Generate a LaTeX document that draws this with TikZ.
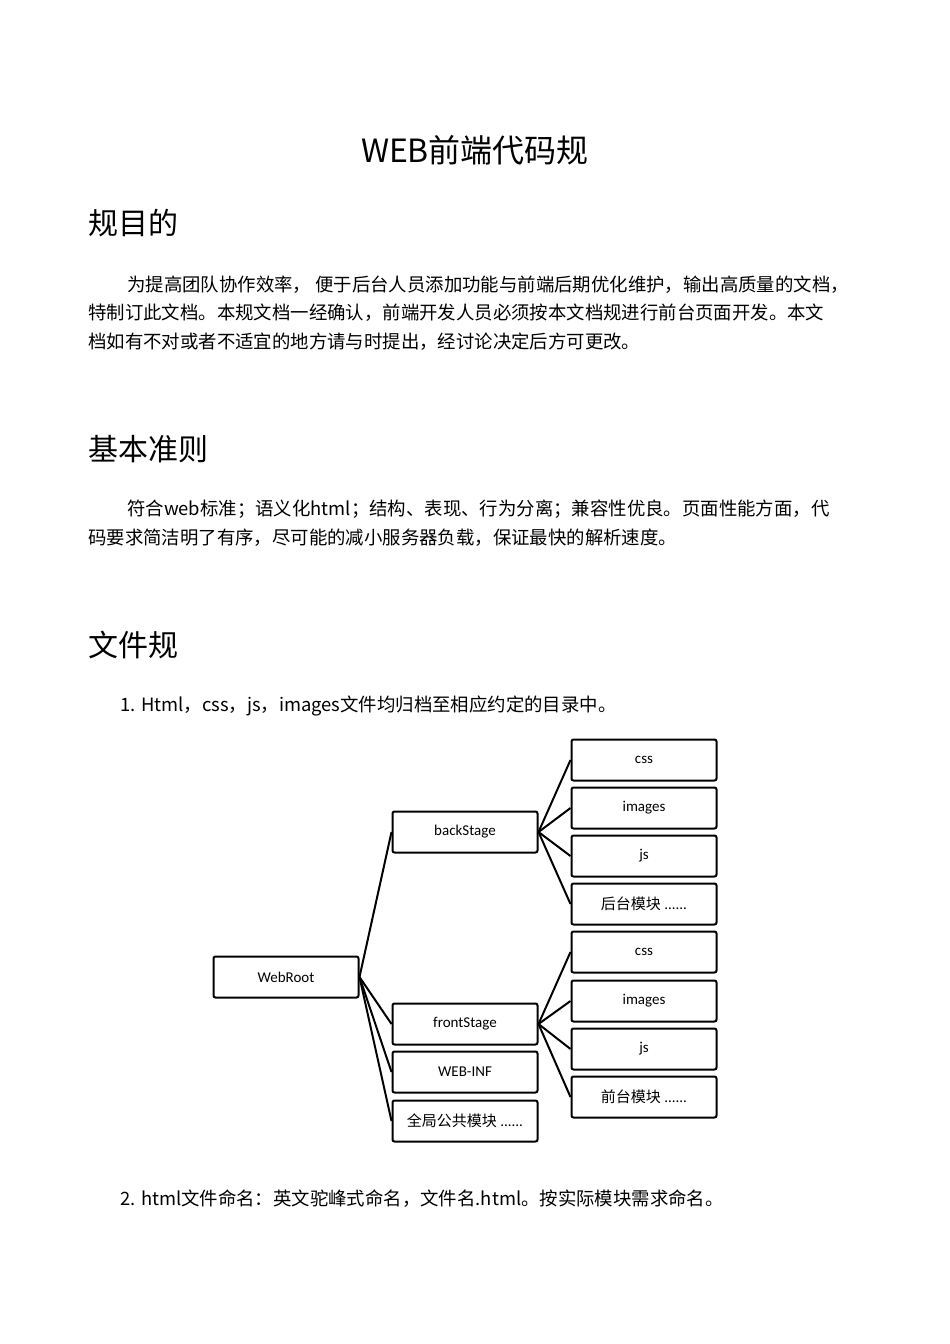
\documentclass[tikz,border=0pt]{standalone}
\usepackage{fontspec}
\newfontfamily\cjk{Noto Sans CJK SC}
\newfontfamily\calfont{Carlito}
\begin{document}
\begin{tikzpicture}[x=1pt,y=-1pt,
  body/.style={anchor=west,inner sep=0pt,font=\cjk\fontsize{18.4}{20}\selectfont},
  head/.style={anchor=west,inner sep=0pt,font=\cjk\fontsize{30}{32}\selectfont},
  box/.style={draw,line width=2pt,rounded corners=2pt,minimum width=145pt,minimum height=41pt,inner sep=0pt,font=\calfont\fontsize{15}{17}\selectfont},
  link/.style={line width=2pt}]
\useasboundingbox (0,0) rectangle (950,1344);
\fill[white] (0,0) rectangle (950,1344);
\node[inner sep=0pt,font=\cjk\fontsize{32}{34}\selectfont] (title) at (475,150) {WEB前端代码规};
\node[head] (h1) at (88,223) {规目的};
\node[body] (p1a) at (127,285) {为提高团队协作效率， 便于后台人员添加功能与前端后期优化维护，输出高质量的文档，};
\node[body] (p1b) at (88,313) {特制订此文档。本规文档一经确认，前端开发人员必须按本文档规进行前台页面开发。本文};
\node[body] (p1c) at (88,342) {档如有不对或者不适宜的地方请与时提出，经讨论决定后方可更改。};
\node[head] (h2) at (88,449) {基本准则};
\node[body] (p2a) at (127,509) {符合web标准；语义化html；结构、表现、行为分离；兼容性优良。页面性能方面，代};
\node[body] (p2b) at (88,538) {码要求简洁明了有序，尽可能的减小服务器负载，保证最快的解析速度。};
\node[head] (h3) at (88,645) {文件规};
\node[body] (l1) at (120,706) {1. Html，css，js，images文件均归档至相应约定的目录中。};
\node[body] (l2) at (120,1199) {2. html文件命名：英文驼峰式命名，文件名.html。按实际模块需求命名。};
% tree
\node[box] (root) at (286,977) {WebRoot};
\node[box] (back) at (465,832) {backStage};
\node[box] (front) at (465,1024) {frontStage};
\node[box] (inf) at (465,1072) {WEB-INF};
\node[box] (pub) at (465,1121) {{\cjk 全局公共模块} ......};
\node[box] (bcss) at (644,760) {css};
\node[box] (bimg) at (644,808) {images};
\node[box] (bjs) at (644,856) {js};
\node[box] (bmod) at (644,904) {{\cjk 后台模块} ......};
\node[box] (fcss) at (644,952) {css};
\node[box] (fimg) at (644,1001) {images};
\node[box] (fjs) at (644,1049) {js};
\node[box] (fmod) at (644,1097) {{\cjk 前台模块} ......};
\foreach \c in {back,front,inf,pub} \draw[link] (root.east) -- (\c.west);
\foreach \c in {bcss,bimg,bjs,bmod} \draw[link] (back.east) -- (\c.west);
\foreach \c in {fcss,fimg,fjs,fmod} \draw[link] (front.east) -- (\c.west);
\end{tikzpicture}
\end{document}
